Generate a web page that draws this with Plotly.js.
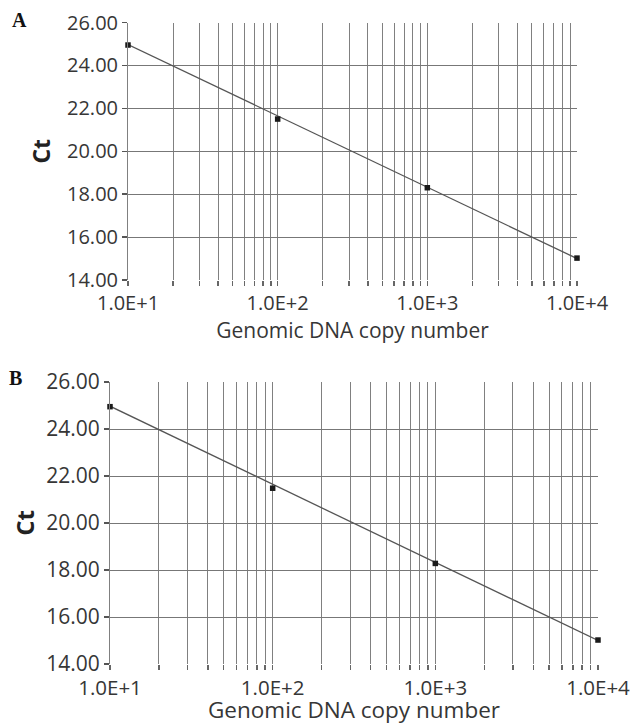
<!DOCTYPE html>
<html>
<head>
<meta charset="utf-8">
<script src="https://cdn.plot.ly/plotly-3.0.1.min.js"></script>
<style>
html,body{margin:0;padding:0;background:#fff;}
#chart{width:638px;height:725px;}
</style>
</head>
<body>
<div id="chart"></div>
<script>
// ---- data ----
const copyNumber = [10, 100, 1000, 10000];
const ctA = [24.95, 21.5, 18.3, 15.02];
const ctB = [24.95, 21.48, 18.28, 15.02];
const fitXA = [10, 10000];
const fitYA = [24.97, 15.0];
const fitXB = [10, 10000];
const fitYB = [24.97, 15.0];
const yTicks = [14, 16, 18, 20, 22, 24, 26];
const yTickText = ["14.00", "16.00", "18.00", "20.00", "22.00", "24.00", "26.00"];
const xGridVals = [10,20,30,40,50,60,70,80,90,100,200,300,400,500,600,700,800,900,1000,2000,3000,4000,5000,6000,7000,8000,9000,10000];
const xDecadeLabels = {10: "1.0E+1", 100: "1.0E+2", 1000: "1.0E+3", 10000: "1.0E+4"};
const xTitle = "Genomic DNA copy number";
const yTitle = "Ct";
const panelLabels = ["A", "B"];

const W = 638, H = 725;
const textCol = "#363636";
const gridCol = "#808080";
const fontFam = "'Open Sans', 'Noto Sans', sans-serif";

function xaxisCfg(domain, anchor, tickSize, titleSize, standoff) {
  return {
    type: "log", range: [1, 4], domain: domain, anchor: anchor,
    tickmode: "array", tickvals: xGridVals,
    ticktext: xGridVals.map(v => xDecadeLabels[v] || ""),
    ticks: "outside", ticklen: 5, tickcolor: "#666", tickwidth: 1.5,
    showgrid: true, gridcolor: gridCol, gridwidth: 1,
    showline: false, zeroline: false,
    tickfont: {family: fontFam, size: tickSize, color: textCol},
    title: {text: xTitle, font: {family: fontFam, size: titleSize, color: textCol}, standoff: standoff},
    fixedrange: true
  };
}
function yaxisCfg(domain, anchor, tickSize, titleSize, standoff) {
  return {
    range: [14, 26], domain: domain, anchor: anchor,
    tickmode: "array", tickvals: yTicks, ticktext: yTickText,
    ticks: "outside", ticklen: 5, tickcolor: "#555", tickwidth: 1.5,
    showgrid: true, gridcolor: "#777", gridwidth: 1,
    showline: true, linecolor: gridCol, linewidth: 1,
    zeroline: false,
    tickfont: {family: fontFam, size: tickSize, color: textCol},
    title: {text: yTitle, font: {family: fontFam, size: titleSize, color: "#222", weight: "bold"}, standoff: standoff},
    fixedrange: true
  };
}

const traces = [
  {x: fitXA, y: fitYA, xaxis: "x", yaxis: "y", mode: "lines", line: {color: "#555", width: 1.3}, hoverinfo: "skip", showlegend: false},
  {x: copyNumber, y: ctA, xaxis: "x", yaxis: "y", mode: "markers", marker: {symbol: "square", size: 5.5, color: "#1a1a1a"}, cliponaxis: false, showlegend: false},
  {x: fitXB, y: fitYB, xaxis: "x2", yaxis: "y2", mode: "lines", line: {color: "#555", width: 1.3}, hoverinfo: "skip", showlegend: false},
  {x: copyNumber, y: ctB, xaxis: "x2", yaxis: "y2", mode: "markers", marker: {symbol: "square", size: 5.5, color: "#1a1a1a"}, cliponaxis: false, showlegend: false}
];

const layout = {
  width: W, height: H,
  margin: {l: 0, r: 0, t: 0, b: 0},
  paper_bgcolor: "#fff", plot_bgcolor: "#fff",
  showlegend: false,
  xaxis: xaxisCfg([128/W, 577/W], "y", 20, 21, 2),
  yaxis: yaxisCfg([(H-280)/H, (H-22.5)/H], "x", 20, 23, 9),
  xaxis2: xaxisCfg([110/W, 598/W], "y2", 20.5, 22.5, 6),
  yaxis2: yaxisCfg([(H-664)/H, (H-382)/H], "x2", 21, 24, 4),
  annotations: [
    {text: "<b>" + panelLabels[0] + "</b>", xref: "paper", yref: "paper", x: 10/W, y: (H-20)/H, xanchor: "left", yanchor: "middle", showarrow: false, font: {family: "'Liberation Serif', serif", size: 20, color: "#111"}},
    {text: "<b>" + panelLabels[1] + "</b>", xref: "paper", yref: "paper", x: 7/W, y: (H-378)/H, xanchor: "left", yanchor: "middle", showarrow: false, font: {family: "'Liberation Serif', serif", size: 20, color: "#111"}}
  ]
};

Plotly.newPlot("chart", traces, layout, {staticPlot: true, displayModeBar: false});
</script>
</body>
</html>
